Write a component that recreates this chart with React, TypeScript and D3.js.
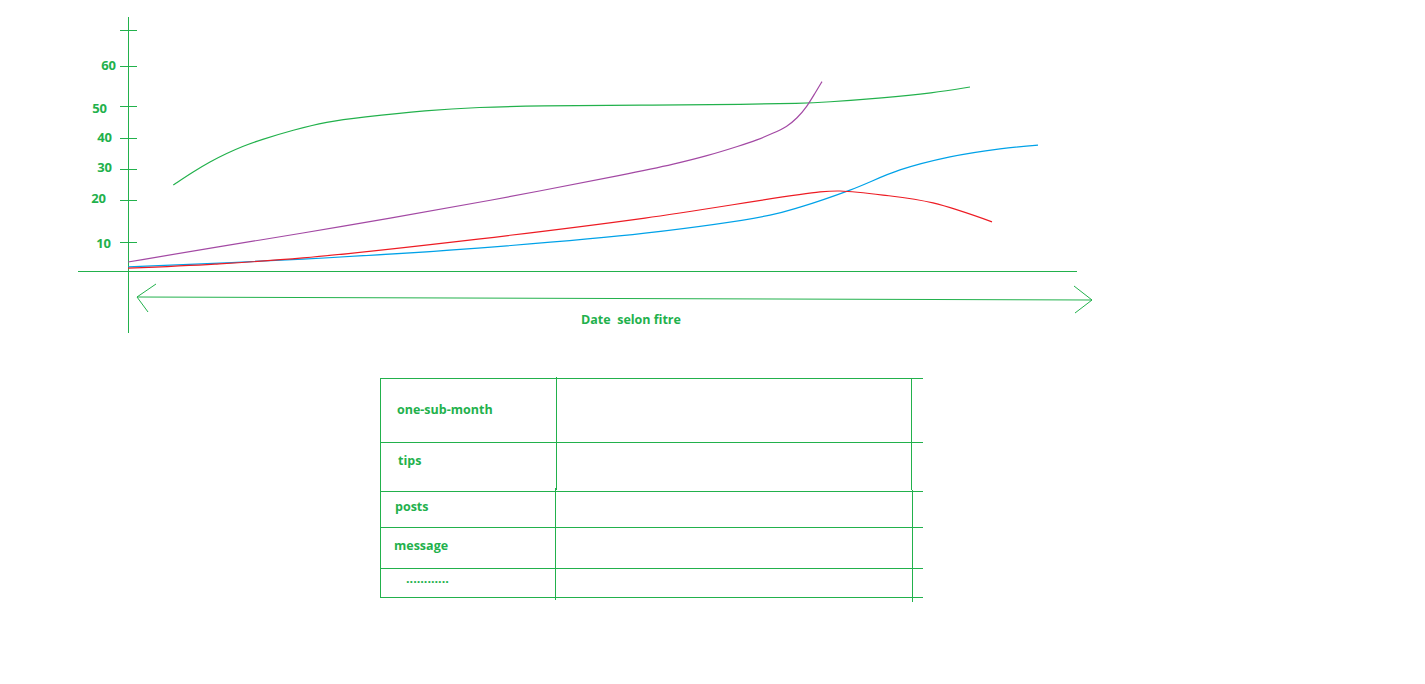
import React from "react";
import * as d3 from "d3";

// ---- data ----
const yTickValues = [10, 20, 30, 40, 50, 60, 70];
const yTickLabels = ["10", "20", "30", "40", "50", "60", ""];
const yLabelDx = [-4, -9, -3, -3, -8, 1, 0];
const yLabelDy = [2, -1, -1, 0, 3, 0, 0];

const greenX = [4.53, 6.53, 8.2, 9.87, 11.53, 13.2, 16.53, 19.87, 23.2, 30, 35, 40.9, 51.2, 62.2, 67.2, 69.7, 75.5, 80.5, 84.2];
const greenY = [24.84, 29.13, 32.35, 35.06, 37.42, 39.35, 42.5, 45.09, 46.47, 48.7, 49.6, 50.05, 50.18, 50.43, 50.68, 50.93, 52.0, 53.25, 54.75];

const purpleX = [0, 8.7, 17.5, 26.2, 35, 51.2, 54.5, 57.9, 61.2, 62.9, 64.5, 65.9, 66.9, 67.9, 68.7, 69.4];
const purpleY = [3.1, 8.2, 12.1, 15.7, 19.3, 29.13, 31.5, 34.2, 37.5, 39.35, 41.47, 43.53, 46.16, 49.8, 53.2, 56.1];

const redX = [0, 8.7, 17.5, 35, 51.7, 69.2, 71.2, 75.5, 80.5, 86.4];
const redY = [1.0, 2.4, 4.5, 10.7, 15.7, 22.6, 22.9, 21.6, 19.3, 14.8];

const blueX = [0, 17.5, 35, 51.7, 64.2, 67.2, 72.2, 77.2, 82.2, 87.2, 91];
const blueY = [1.4, 4.1, 7.9, 12.1, 16.4, 18.3, 23.2, 29.7, 33.9, 36.5, 37.7];

const xAxisTitle = "Date  selon fitre";
const tableRows = ["one-sub-month", "tips", "posts", "message", "............"];

const GREEN = "#22b14c";
const FONT = "'Open Sans', 'Liberation Sans', sans-serif";

export default function App() {
  const x = d3.scaleLinear().domain([0, 95]).range([128, 1078]);
  // the hand-drawn axis has uneven spacing between ticks
  const y = d3
    .scaleLinear()
    .domain([0, 10, 20, 30, 40, 50, 60, 70])
    .range([271, 242, 200, 169, 138, 106, 66, 30]);

  const makeLine = (curve: d3.CurveFactory) =>
    d3
      .line<[number, number]>()
      .x((d) => x(d[0]))
      .y((d) => y(d[1]))
      .curve(curve);

  const series = [
    { xs: greenX, ys: greenY, color: GREEN, curve: d3.curveBasis },
    { xs: purpleX, ys: purpleY, color: "#a349a4", curve: d3.curveBasis },
    { xs: blueX, ys: blueY, color: "#00a2e8", curve: d3.curveCatmullRom.alpha(0.5) },
    { xs: redX, ys: redY, color: "#ed1c24", curve: d3.curveCatmullRom.alpha(0.5) },
  ];

  const rowLines = [378, 442, 491, 527, 568, 597];
  const rowText = [411, 462, 508, 547, 580];
  const rowTextX = [397, 398, 395, 394, 406];

  return (
    <svg
      width={1425}
      height={684}
      style={{ position: "absolute", left: 0, top: 0, background: "#fff" }}
    >
      <rect x={0} y={0} width={1425} height={684} fill="#fff" />
      {/* axes */}
      <g stroke={GREEN} strokeWidth={1} shapeRendering="crispEdges">
        <line x1={128.5} y1={17} x2={128.5} y2={333} />
        <line x1={78} y1={271.5} x2={1077} y2={271.5} />
        {yTickValues.map((v) => (
          <line key={v} x1={120} x2={137} y1={Math.round(y(v)) + 0.5} y2={Math.round(y(v)) + 0.5} />
        ))}
      </g>
      <g fill={GREEN} fontFamily={FONT} fontWeight="bold" fontSize={13} textAnchor="end">
        {yTickValues.map((v, i) => (
          <text
            key={v}
            x={115 + yLabelDx[i]}
            y={y(v) + 1 + yLabelDy[i]}
            dominantBaseline="middle"
          >
            {yTickLabels[i]}
          </text>
        ))}
      </g>
      {/* double-headed arrow */}
      <g stroke={GREEN} strokeWidth={1} fill="none">
        <line x1={137} y1={297} x2={1092} y2={300} />
        <polyline points="156,284 137,297 148,312" />
        <polyline points="1074,286 1092,300 1075,313" />
      </g>
      <text
        x={631}
        y={321}
        fill={GREEN}
        fontFamily={FONT}
        fontWeight="bold"
        fontSize={12.5}
        textAnchor="middle"
        dominantBaseline="middle"
        style={{ whiteSpace: "pre" }}
      >
        {xAxisTitle}
      </text>
      {/* series */}
      {series.map((s, i) => (
        <path
          key={i}
          d={makeLine(s.curve)(s.xs.map((xv, j) => [xv, s.ys[j]] as [number, number])) || ""}
          fill="none"
          stroke={s.color}
          strokeWidth={1.2}
        />
      ))}
      {/* table */}
      <g stroke={GREEN} strokeWidth={1} shapeRendering="crispEdges">
        {rowLines.map((ry) => (
          <line key={ry} x1={380} x2={923} y1={ry + 0.5} y2={ry + 0.5} />
        ))}
        <line x1={380.5} x2={380.5} y1={378} y2={597} />
        <line x1={556.5} x2={556.5} y1={377} y2={490} />
        <line x1={555.5} x2={555.5} y1={488} y2={600} />
        <line x1={911.5} x2={911.5} y1={378} y2={490} />
        <line x1={912.5} x2={912.5} y1={490} y2={602} />
      </g>
      <g fill={GREEN} fontFamily={FONT} fontWeight="bold" fontSize={12.5}>
        {tableRows.map((t, i) => (
          <text key={t} x={rowTextX[i]} y={rowText[i]} dominantBaseline="middle">
            {t}
          </text>
        ))}
      </g>
    </svg>
  );
}
